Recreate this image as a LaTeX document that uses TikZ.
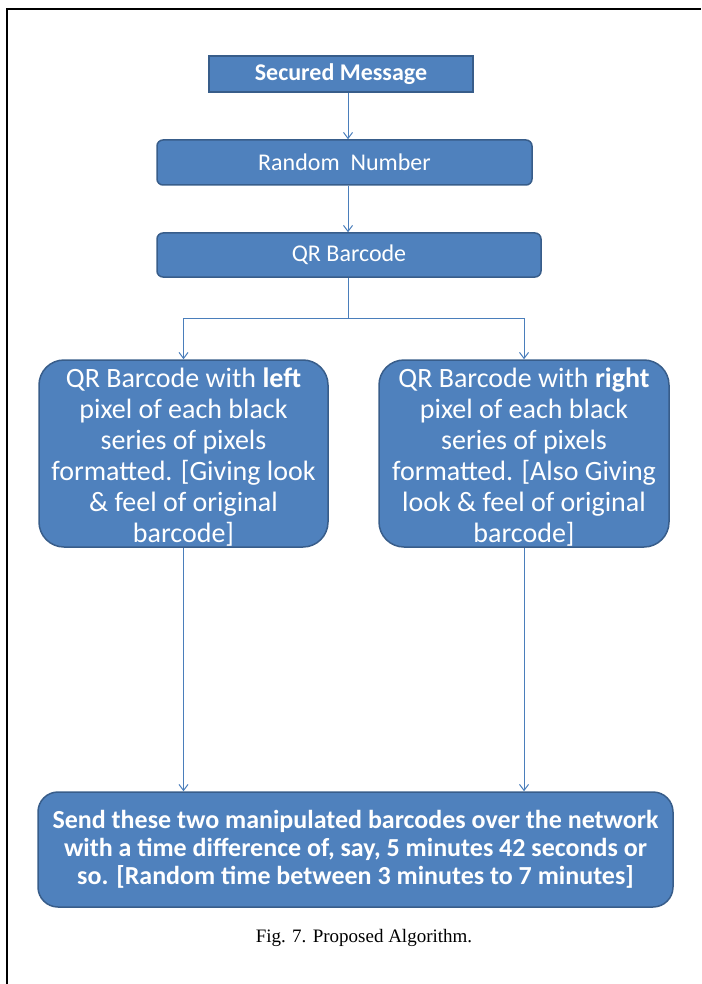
\documentclass[tikz,border=0pt]{standalone}
\usepackage{fontspec}
\newfontfamily\carl{Carlito}
\newfontfamily\tms{Liberation Serif}
\usetikzlibrary{arrows.meta}
\definecolor{boxfill}{HTML}{4F81BD}
\definecolor{boxline}{HTML}{385D8A}
\definecolor{arrline}{HTML}{4A7EBB}
\begin{document}
\begin{tikzpicture}[x=1pt,y=-1pt,
  blue box/.style={draw=boxline, line width=1.5pt, fill=boxfill, text=white,
    inner sep=0pt, align=center, font=\carl},
  side text/.style={text=white, inner sep=0pt, align=center, yshift=-4pt,
    font=\carl\fontsize{28}{31}\selectfont},
  flow/.style={draw=arrline, line width=1pt, -{Straight Barb[length=6pt,width=9pt]}},
  plain/.style={draw=arrline, line width=1pt}]
\useasboundingbox (0,0) rectangle (701,984);
\draw[line width=2.2pt] (7,984) -- (7,9) -- (701,9);

\node[blue box, minimum width=264pt, minimum height=36pt, font=\carl\bfseries\fontsize{24}{26}\selectfont]
  (sm) at (341,74) {Secured Message};
\node[blue box, rounded corners=6pt, minimum width=375pt, minimum height=45pt, font=\carl\fontsize{24}{26}\selectfont]
  (rn) at (344.5,162.5) {Random\ \ Number};
\node[blue box, rounded corners=6pt, minimum width=384pt, minimum height=44pt, font=\carl\fontsize{24}{26}\selectfont]
  (qr) at (349,255) {QR Barcode};
\node[blue box, rounded corners=25pt, minimum width=289pt, minimum height=187pt,
  label={[side text]center:{QR Barcode with \textbf{left}\\pixel of each black\\series of pixels\\formatted. [Giving look\\\& feel of original\\barcode]}}]
  (lb) at (183.5,453.5) {};
\node[blue box, rounded corners=25pt, minimum width=290pt, minimum height=187pt,
  label={[side text]center:{QR Barcode with \textbf{right}\\pixel of each black\\series of pixels\\formatted. [Also Giving\\look \& feel of original\\barcode]}}]
  (rb) at (524,453.5) {};
\node[blue box, rounded corners=20pt, minimum width=635pt, minimum height=115pt, font=\carl\bfseries\fontsize{26}{28}\selectfont]
  (bb) at (355.5,849.5) {Send these two manipulated barcodes over the network\\with a time difference of, say, 5 minutes 42 seconds or\\so. [Random time between 3 minutes to 7 minutes]};
\node[font=\tms\fontsize{19}{21}\selectfont, inner sep=0pt] (cap) at (364,938) {Fig. 7. Proposed Algorithm.};

\coordinate (spine) at (348,0);
\coordinate (fork) at (348,318);
\draw[flow] (sm.south -| spine) -- (rn.north -| spine);
\draw[flow] (rn.south -| spine) -- (qr.north -| spine);
\draw[plain] (qr.south -| fork) -- (fork);
\draw[flow] (fork) -| (lb.north);
\draw[flow] (fork) -| (rb.north);
\draw[flow] (lb.south) -- (bb.north -| lb.south);
\draw[flow] (rb.south) -- (bb.north -| rb.south);
\end{tikzpicture}
\end{document}
